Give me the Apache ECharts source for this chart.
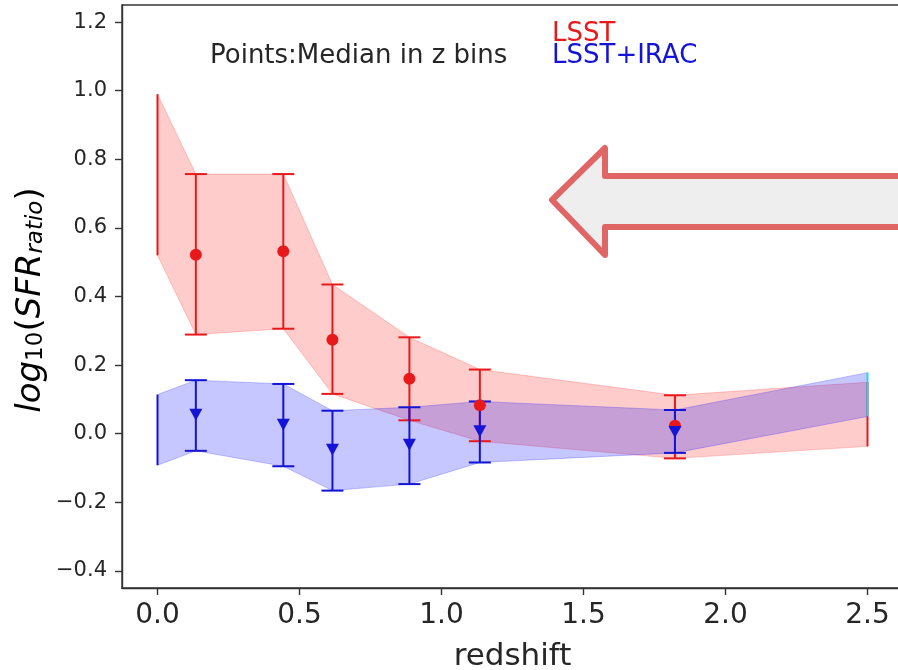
<!DOCTYPE html>
<html>
<head>
<meta charset="utf-8">
<script src="https://cdn.jsdelivr.net/npm/echarts@6/dist/echarts.min.js"></script>
<style>
  html, body { margin: 0; padding: 0; background: #ffffff; }
  #chart { width: 898px; height: 670px; }
</style>
</head>
<body>
<div id="chart"></div>
<script>
// Median log10(SFR ratio) in redshift bins, with lower/upper percentile spread
const zBins      = [0.135, 0.443, 0.616, 0.887, 1.135, 1.822];
const lsstMedian = [0.522, 0.532, 0.274, 0.160, 0.083, 0.023];
const lsstLow    = [0.289, 0.306, 0.116, 0.039, -0.022, -0.072];
const lsstHigh   = [0.757, 0.757, 0.435, 0.281, 0.187, 0.112];
const iracMedian = [0.055, 0.026, -0.047, -0.032, 0.007, 0.005];
const iracLow    = [-0.050, -0.095, -0.166, -0.147, -0.084, -0.056];
const iracHigh   = [0.156, 0.145, 0.067, 0.077, 0.094, 0.069];

// Shaded envelopes (including the end points at z = 0 and z = 2.5)
const bandZ        = [0, 0.135, 0.443, 0.616, 0.887, 1.135, 1.822, 2.5];
const lsstBandLow  = [0.52, 0.289, 0.306, 0.116, 0.039, -0.022, -0.072, -0.037];
const lsstBandHigh = [0.99, 0.757, 0.757, 0.435, 0.281, 0.187, 0.112, 0.150];
const iracBandLow  = [-0.092, -0.050, -0.095, -0.166, -0.147, -0.084, -0.056, 0.050];
const iracBandHigh = [0.114, 0.156, 0.145, 0.067, 0.077, 0.094, 0.069, 0.178];

const xTicks = [0, 0.5, 1.0, 1.5, 2.0, 2.5];
const yTicks = [-0.4, -0.2, 0.0, 0.2, 0.4, 0.6, 0.8, 1.0, 1.2];

const RED = '#e8191b';
const BLUE = '#1414d6';
const AXIS = '#333333';
const TEXT = '#262626';
const FONT = 'DejaVu Sans';

const fmt = v => v.toFixed(1).replace('-', '\u2212');

function rows(xs, ...cols) {
  return xs.map((x, i) => [x, ...cols.map(c => c[i])]);
}

// Filled envelope drawn as one polygon, plus the vertical edges at both ends
function bandSeries(name, lo, hi, fill, edgeStart, edgeEnd) {
  return {
    type: 'custom',
    name: name,
    silent: true,
    data: rows(bandZ, lo, hi),
    encode: { x: 0, y: [1, 2] },
    renderItem: function (params, api) {
      if (params.dataIndex !== 0) return null;
      const top = bandZ.map((z, i) => api.coord([z, hi[i]]));
      const bot = bandZ.map((z, i) => api.coord([z, lo[i]])).reverse();
      const n = bandZ.length - 1;
      const a0 = api.coord([bandZ[0], lo[0]]), b0 = api.coord([bandZ[0], hi[0]]);
      const a1 = api.coord([bandZ[n], lo[n]]), b1 = api.coord([bandZ[n], hi[n]]);
      return {
        type: 'group',
        children: [
          { type: 'polygon', shape: { points: top.concat(bot) },
            style: { fill: fill, stroke: fill, lineWidth: 1 } },
          { type: 'line', shape: { x1: a0[0], y1: a0[1], x2: b0[0], y2: b0[1] },
            style: { stroke: edgeStart, lineWidth: 2 } },
          { type: 'line', shape: { x1: a1[0], y1: a1[1], x2: b1[0], y2: b1[1] },
            style: { stroke: edgeEnd, lineWidth: 2 } }
        ]
      };
    },
    z: 2
  };
}

// Vertical error bar with caps at the low and high ends
function errorSeries(name, lo, hi, color) {
  return {
    type: 'custom',
    name: name,
    silent: true,
    data: rows(zBins, lo, hi),
    encode: { x: 0, y: [1, 2] },
    renderItem: function (params, api) {
      const x = api.value(0);
      const pl = api.coord([x, api.value(1)]);
      const ph = api.coord([x, api.value(2)]);
      const w = 11;
      const st = { stroke: color, lineWidth: 2 };
      return {
        type: 'group',
        children: [
          { type: 'line', shape: { x1: pl[0], y1: pl[1], x2: ph[0], y2: ph[1] }, style: st },
          { type: 'line', shape: { x1: pl[0] - w, y1: pl[1], x2: pl[0] + w, y2: pl[1] }, style: st },
          { type: 'line', shape: { x1: ph[0] - w, y1: ph[1], x2: ph[0] + w, y2: ph[1] }, style: st }
        ]
      };
    },
    z: 3
  };
}

const chart = echarts.init(document.getElementById('chart'), null, { renderer: 'canvas' });

const yTitleRich = {
  i: { fontFamily: FONT, fontStyle: 'italic', fontSize: 34, lineHeight: 42, verticalAlign: 'bottom', color: TEXT },
  u: { fontFamily: FONT, fontSize: 34, lineHeight: 42, verticalAlign: 'bottom', color: TEXT },
  s: { fontFamily: FONT, fontSize: 23, lineHeight: 23, verticalAlign: 'bottom', color: TEXT },
  si: { fontFamily: FONT, fontStyle: 'italic', fontSize: 23, lineHeight: 23, verticalAlign: 'bottom', color: TEXT }
};

chart.setOption({
  animation: false,
  backgroundColor: '#ffffff',
  grid: {
    left: 122, top: 5, width: 781, height: 583,
    containLabel: false,
    outerBoundsMode: 'none',
    show: true,
    borderColor: AXIS,
    borderWidth: 1.4,
    backgroundColor: 'transparent'
  },
  xAxis: {
    type: 'value',
    min: -0.125,
    max: 2.625,
    name: 'redshift',
    nameLocation: 'middle',
    nameGap: 53,
    nameTextStyle: { fontFamily: FONT, fontSize: 31, color: TEXT, verticalAlign: 'top' },
    axisLine: { show: true, onZero: false, lineStyle: { color: AXIS, width: 1.4 } },
    axisTick: { show: true, inside: false, length: 7, lineStyle: { color: AXIS, width: 1.4 }, customValues: xTicks },
    axisLabel: { fontFamily: FONT, fontSize: 28, color: TEXT, margin: 14, customValues: xTicks, formatter: fmt },
    splitLine: { show: false }
  },
  yAxis: {
    type: 'value',
    min: -0.45,
    max: 1.25,
    axisLine: { show: true, onZero: false, lineStyle: { color: AXIS, width: 1.4 } },
    axisTick: { show: true, inside: false, length: 7, lineStyle: { color: AXIS, width: 1.4 }, customValues: yTicks },
    axisLabel: { fontFamily: FONT, fontSize: 21, color: TEXT, margin: 15, customValues: yTicks, formatter: fmt },
    splitLine: { show: false }
  },
  graphic: [
    {
      type: 'text', x: 27, y: 300, rotation: Math.PI / 2,
      style: {
        text: '{i|log}{s|10}{u|(}{i|SFR}{si|ratio}{u|)}',
        rich: yTitleRich,
        align: 'center', verticalAlign: 'middle'
      }
    },
    {
      type: 'text', x: 210, y: 56,
      style: { text: 'Points:Median in z bins', fontFamily: FONT, fontSize: 26, fill: TEXT,
               align: 'left', verticalAlign: 'middle' }
    },
    {
      type: 'text', x: 552, y: 34,
      style: { text: 'LSST', fontFamily: FONT, fontSize: 26, fill: RED, align: 'left', verticalAlign: 'middle' }
    },
    {
      type: 'text', x: 552, y: 56,
      style: { text: 'LSST+IRAC', fontFamily: FONT, fontSize: 26, fill: BLUE, align: 'left', verticalAlign: 'middle' }
    },
    {
      // Callout arrow pointing left
      type: 'polygon', z: 10,
      shape: { points: [[552, 200], [605, 148], [605, 176], [912, 176], [912, 227], [605, 227], [605, 255]] },
      style: { fill: '#eeeeee', stroke: '#e06666', lineWidth: 6, lineJoin: 'round' }
    }
  ],
  series: [
    bandSeries('LSST band', lsstBandLow, lsstBandHigh, 'rgba(255,0,0,0.2)', RED, RED),
    bandSeries('LSST+IRAC band', iracBandLow, iracBandHigh, 'rgba(0,0,255,0.22)', BLUE, '#2ad4f0'),
    errorSeries('LSST error', lsstLow, lsstHigh, RED),
    {
      type: 'scatter', name: 'LSST', silent: true,
      data: rows(zBins, lsstMedian),
      symbol: 'circle', symbolSize: 12,
      itemStyle: { color: RED, opacity: 1 },
      z: 4
    },
    errorSeries('LSST+IRAC error', iracLow, iracHigh, BLUE),
    {
      type: 'scatter', name: 'LSST+IRAC', silent: true,
      data: rows(zBins, iracMedian),
      symbol: 'triangle', symbolRotate: 180, symbolSize: [13, 12],
      itemStyle: { color: BLUE, opacity: 1 },
      z: 5
    }
  ]
});
</script>
</body>
</html>
